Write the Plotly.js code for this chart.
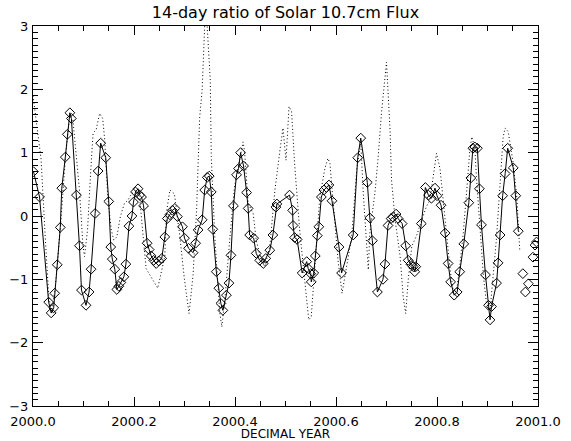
<!DOCTYPE html>
<html>
<head>
<meta charset="utf-8">
<script src="https://cdn.plot.ly/plotly-3.0.1.min.js"></script>
<style>html,body{margin:0;padding:0;background:#fff;}#chart{width:571px;height:441px;}</style>
</head>
<body>
<div id="chart"></div>
<script>
// Solid series (14-day ratio, with diamonds)
const solidYears = [
2000.001,2000.013,2000.031,2000.036,2000.041,2000.043,2000.048,2000.054,2000.057,2000.064,
2000.068,2000.073,2000.076,2000.086,2000.092,2000.096,2000.105,2000.111,2000.115,2000.123,
2000.129,2000.134,2000.144,2000.150,2000.154,2000.157,2000.162,2000.166,2000.170,2000.174,
2000.180,2000.184,2000.190,2000.196,2000.199,2000.203,2000.208,2000.211,2000.215,2000.219,
2000.226,2000.230,2000.234,2000.239,2000.244,2000.249,2000.255,2000.261,2000.266,2000.271,
2000.276,2000.281,2000.286,2000.296,2000.300,2000.308,2000.317,2000.322,2000.327,2000.335,
2000.340,2000.345,2000.349,2000.353,2000.356,2000.363,2000.368,2000.372,2000.376,2000.383,
2000.388,2000.392,2000.397,2000.403,2000.407,2000.411,2000.417,2000.423,2000.426,2000.429,
2000.437,2000.442,2000.449,2000.456,2000.461,2000.469,2000.475,2000.481,2000.483,2000.508,
2000.514,2000.515,2000.518,2000.523,2000.533,2000.542,2000.545,2000.550,2000.551,2000.556,
2000.559,2000.563,2000.566,2000.571,2000.576,2000.581,2000.586,2000.592,2000.606,2000.611,
2000.634,2000.643,2000.649,2000.662,2000.667,2000.672,2000.682,2000.693,2000.697,2000.703,
2000.709,2000.713,2000.719,2000.723,2000.731,2000.738,2000.743,2000.748,2000.753,2000.756,
2000.758,2000.769,2000.777,2000.783,2000.789,2000.796,2000.800,2000.808,2000.816,2000.822,
2000.827,2000.834,2000.840,2000.845,2000.853,2000.863,2000.867,2000.871,2000.875,2000.880,
2000.884,2000.888,2000.896,2000.902,2000.905,2000.908,2000.918,2000.921,2000.925,2000.930,
2000.935,2000.940,2000.951,2000.956,2000.961
];
const solidRatio = [
0.70,0.30,-1.36,-1.53,-1.45,-1.22,-0.77,-0.18,0.44,0.93,
1.29,1.63,1.54,0.33,-0.47,-1.17,-1.41,-1.20,-0.84,0.04,
0.71,1.15,0.92,0.23,-0.49,-0.68,-0.84,-1.16,-1.11,-1.05,
-0.96,-0.76,-0.16,0.00,0.22,0.38,0.43,0.33,0.30,0.16,
-0.43,-0.53,-0.63,-0.70,-0.75,-0.71,-0.67,-0.33,-0.04,0.02,
0.09,0.12,-0.01,-0.17,-0.35,-0.51,-0.58,-0.43,-0.22,-0.06,
0.41,0.61,0.63,0.38,-0.21,-0.88,-1.14,-1.38,-1.49,-1.25,
-1.06,-0.62,0.16,0.65,0.75,1.00,0.79,0.37,0.12,-0.30,
-0.35,-0.59,-0.70,-0.75,-0.67,-0.54,-0.30,0.14,0.19,0.33,
0.09,-0.15,-0.34,-0.37,-0.90,-0.72,-0.83,-0.91,-1.04,-0.90,
-0.63,-0.31,-0.17,0.30,0.41,0.45,0.49,0.24,-0.49,-0.90,
-0.30,0.92,1.23,0.53,-0.03,-0.39,-1.20,-1.00,-0.76,-0.15,
-0.04,-0.02,0.03,-0.04,-0.12,-0.47,-0.70,-0.76,-0.80,-0.88,
-0.80,-0.12,0.45,0.33,0.28,0.44,0.32,0.17,-0.27,-0.75,
-1.04,-1.25,-1.20,-0.88,-0.44,0.21,0.60,1.07,1.09,1.07,
0.43,-0.14,-0.93,-1.41,-1.64,-1.43,-1.06,-0.74,-0.30,0.32,
0.67,1.07,0.76,0.32,-0.24
];
// Unconnected diamonds at the end of the year
const tailYears = [2000.970,2000.975,2000.981,2000.990,2000.994,2000.997];
const tailRatio = [-0.91,-1.20,-1.07,-0.65,-0.46,-0.41];

// Dotted series
const dottedYears = [
2000.000,2000.008,2000.016,2000.024,2000.031,2000.037,2000.045,2000.055,2000.064,2000.071,
2000.079,2000.092,2000.099,2000.102,2000.108,2000.114,2000.119,2000.125,2000.132,2000.138,
2000.142,2000.148,2000.155,2000.160,2000.166,2000.173,2000.181,2000.188,2000.195,2000.205,
2000.211,2000.224,2000.247,2000.261,2000.264,2000.271,2000.280,2000.290,2000.300,2000.309,
2000.317,2000.324,2000.330,2000.335,2000.342,2000.351,2000.353,2000.360,2000.370,2000.374,
2000.381,2000.390,2000.399,2000.409,2000.416,2000.419,2000.426,2000.436,2000.442,2000.452,
2000.459,2000.469,2000.479,2000.489,2000.495,2000.501,2000.507,2000.512,2000.518,2000.528,
2000.538,2000.546,2000.551,2000.558,2000.568,2000.578,2000.584,2000.588,2000.594,2000.604,
2000.612,2000.621,2000.631,2000.641,2000.649,2000.654,2000.661,2000.664,2000.667,2000.677,
2000.683,2000.690,2000.700,2000.707,2000.710,2000.717,2000.727,2000.733,2000.738,2000.743,
2000.750,2000.760,2000.770,2000.779,2000.786,2000.799,2000.806,2000.812,2000.819,2000.826,
2000.832,2000.839,2000.845,2000.852,2000.859,2000.865,2000.869,2000.875,2000.878,2000.885,
2000.892,2000.898,2000.905,2000.911,2000.918,2000.925,2000.931,2000.935,2000.941,2000.951,
2000.958,2000.964
];
const dottedRatio = [
1.90,1.40,0.90,-0.30,-1.25,-1.55,-1.05,-0.10,0.90,1.45,
1.52,0.41,-0.48,-0.64,-0.22,0.67,1.31,1.36,1.62,1.54,
1.20,0.30,-0.22,-0.38,-0.33,-0.01,0.20,0.25,0.35,0.40,
0.30,-0.83,-1.14,-0.64,0.04,0.41,0.35,-0.27,-1.01,-1.54,
-0.93,0.10,1.55,2.00,3.40,2.15,0.94,-0.33,-1.54,-1.75,
-1.22,-0.33,0.46,0.88,1.17,1.02,0.20,0.04,-0.38,-0.70,
-0.80,-0.48,0.41,1.04,1.39,0.88,1.73,1.65,0.83,-0.22,
-1.01,-1.64,-1.59,-0.75,0.30,0.75,0.91,0.83,0.30,-0.70,
-1.22,-0.80,-0.33,0.73,1.17,0.36,-0.59,-0.85,-0.27,0.36,
0.88,1.62,2.43,1.36,0.57,-0.06,-0.64,-1.27,-1.54,-1.01,
-0.48,-0.30,-0.06,0.15,0.25,0.99,0.75,0.25,-0.33,-0.85,
-1.17,-1.17,-0.80,-0.27,0.41,1.04,1.25,1.07,0.62,-0.12,
-0.96,-1.38,-1.49,-0.96,-0.33,0.52,1.25,1.39,1.33,0.83,
0.30,-0.56
];

const xRange = [2000, 2001];
const yRange = [-3, 3];
const xTickVals = [2000.0, 2000.2, 2000.4, 2000.6, 2000.8, 2001.0];
const xTickText = ['2000.0','2000.2','2000.4','2000.6','2000.8','2001.0'];
const yTickVals = [-3,-2,-1,0,1,2,3];

const FONT = 'DejaVu Sans, Liberation Sans, sans-serif';

const diamond = {symbol: 'diamond-open', size: 7.5, color: '#000', line: {color: '#000', width: 1}};

const traces = [
  {x: dottedYears, y: dottedRatio, type: 'scatter', mode: 'lines',
   line: {color: '#000', width: 1, dash: '1px,2.5px'}, hoverinfo: 'skip'},
  {x: solidYears, y: solidRatio, type: 'scatter', mode: 'lines+markers',
   line: {color: '#000', width: 1}, marker: diamond},
  {x: tailYears, y: tailRatio, type: 'scatter', mode: 'markers', marker: diamond},
  // empty trace so that the top/right tick axes are drawn
  {x: [], y: [], type: 'scatter', mode: 'markers', xaxis: 'x2', yaxis: 'y2', hoverinfo: 'skip'}
];

const tickCommonX = {
  range: xRange, tickvals: xTickVals,
  ticks: 'inside', ticklen: 9, tickwidth: 1, tickcolor: '#000',
  minor: {dtick: 0.05, tick0: 2000, ticks: 'inside', ticklen: 5, tickwidth: 1, tickcolor: '#000'},
  showgrid: false, zeroline: false
};
const tickCommonY = {
  range: yRange, tickvals: yTickVals,
  ticks: 'inside', ticklen: 10, tickwidth: 1, tickcolor: '#000',
  minor: {dtick: 0.1, tick0: 0, ticks: 'inside', ticklen: 5, tickwidth: 1, tickcolor: '#000'},
  showgrid: false, zeroline: false
};

const layout = {
  width: 571, height: 441,
  margin: {l: 33, r: 33, t: 26, b: 35, pad: 0},
  paper_bgcolor: '#fff', plot_bgcolor: '#fff',
  showlegend: false,
  font: {family: FONT, size: 13, color: '#000'},
  title: {text: '14-day ratio of Solar 10.7cm Flux', font: {family: FONT, size: 16, color: '#000'},
          x: 0.5, xref: 'paper', y: 1 - 12/441, yref: 'container', yanchor: 'middle'},
  xaxis: Object.assign({}, tickCommonX, {
    ticktext: xTickText,
    showline: true, linecolor: '#000', linewidth: 1, mirror: true,
    tickfont: {family: FONT, size: 13, color: '#000'}, ticklabelstandoff: 3,
    title: {text: 'DECIMAL YEAR', font: {family: FONT, size: 12, color: '#000'}, standoff: 1}
  }),
  yaxis: Object.assign({}, tickCommonY, {
    showline: true, linecolor: '#000', linewidth: 1, mirror: true,
    tickfont: {family: FONT, size: 13, color: '#000'}, ticklabelstandoff: 1
  }),
  xaxis2: Object.assign({}, tickCommonX, {
    overlaying: 'x', side: 'top', anchor: 'y', showticklabels: false, showline: false
  }),
  yaxis2: Object.assign({}, tickCommonY, {
    overlaying: 'y', side: 'right', anchor: 'x', showticklabels: false, showline: false
  })
};

Plotly.newPlot('chart', traces, layout, {displayModeBar: false, staticPlot: true});
</script>
</body>
</html>
